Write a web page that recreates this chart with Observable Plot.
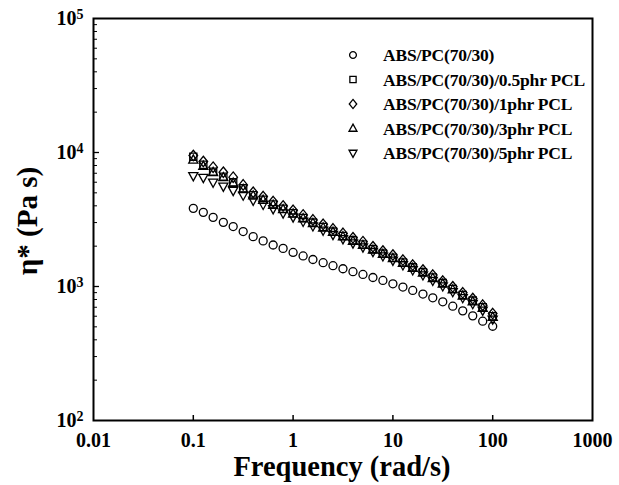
<!DOCTYPE html>
<html><head><meta charset="utf-8">
<script src="https://cdn.jsdelivr.net/npm/d3@7"></script>
<script src="https://cdn.jsdelivr.net/npm/@observablehq/plot@0.6"></script>
<style>
body{margin:0;background:#fff}
#chart{width:619px;height:485px}
</style>
</head><body><div id="chart"></div>
<script>
const frequency = [0.1, 0.126, 0.158, 0.2, 0.251, 0.316, 0.398, 0.501, 0.631, 0.794,
  1, 1.26, 1.58, 2, 2.51, 3.16, 3.98, 5.01, 6.31, 7.94,
  10, 12.6, 15.8, 20, 25.1, 31.6, 39.8, 50.1, 63.1, 79.4, 100];
const seriesNames = ["ABS/PC(70/30)", "ABS/PC(70/30)/0.5phr PCL", "ABS/PC(70/30)/1phr PCL", "ABS/PC(70/30)/3phr PCL", "ABS/PC(70/30)/5phr PCL"];
const eta0 = [3830, 3575, 3280, 3010, 2800, 2570, 2355, 2190, 2040, 1925,
  1795, 1690, 1590, 1505, 1430, 1357, 1290, 1230, 1167, 1110,
  1047, 990, 934, 878, 823, 769, 713, 658, 604, 551, 505];
const eta05 = [9300, 8100, 7200, 6600, 6000, 5400, 4800, 4450, 4100, 3800,
  3520, 3250, 3000, 2780, 2570, 2380, 2210, 2060, 1900, 1760,
  1640, 1510, 1390, 1280, 1170, 1060, 960, 865, 785, 700, 600];
const eta1 = [9500, 8570, 7770, 7120, 6540, 5730, 5050, 4690, 4300, 3990,
  3700, 3420, 3140, 2910, 2690, 2490, 2310, 2160, 1980, 1840,
  1718, 1575, 1445, 1327, 1217, 1097, 995, 897, 813, 726, 628];
const eta3 = [8800, 7900, 7100, 6500, 5900, 5300, 4750, 4400, 4050, 3750,
  3480, 3210, 2960, 2740, 2540, 2350, 2180, 2030, 1870, 1740,
  1620, 1490, 1370, 1260, 1150, 1045, 945, 850, 770, 690, 590];
const eta5 = [6700, 6500, 6000, 5600, 5200, 4800, 4400, 4100, 3800, 3530,
  3300, 3060, 2830, 2630, 2440, 2270, 2110, 1970, 1820, 1690,
  1570, 1450, 1330, 1220, 1110, 1010, 915, 825, 745, 665, 570];
const xTicks = [0.01, 0.1, 1, 10, 100, 1000];
const xTickLabels = ["0.01", "0.1", "1", "10", "100", "1000"];
const yTicks = [100, 1000, 10000, 100000];
const yTickExponents = ["2", "3", "4", "5"];
const yMinorTicks = [200,300,400,500,600,700,800,900,2000,3000,4000,5000,6000,7000,8000,9000,20000,30000,40000,50000,60000,70000,80000,90000];
const xTitle = "Frequency (rad/s)";
const yTitle = "η* (Pa s)";

// symbols
const rOf = s => Math.sqrt(s / Math.PI);
const circleSym = {draw(c, s){ const r = rOf(s); c.moveTo(r, 0); c.arc(0, 0, r, 0, 2*Math.PI); c.closePath(); }};
const squareSym = {draw(c, s){ const r = rOf(s)*0.92; c.rect(-r, -r, 2*r, 2*r); }};
const diamondSym = {draw(c, s){ const r = rOf(s); const w = r*1.1, h = r*1.35; c.moveTo(0,-h); c.lineTo(w,0); c.lineTo(0,h); c.lineTo(-w,0); c.closePath(); }};
const triUpSym = {draw(c, s){ const r = rOf(s)*1.3; c.moveTo(0,-r); c.lineTo(r*0.9, r*0.62); c.lineTo(-r*0.9, r*0.62); c.closePath(); }};
const triDownSym = {draw(c, s){ const r = rOf(s)*1.3; c.moveTo(0,r); c.lineTo(r*0.9,-r*0.62); c.lineTo(-r*0.9,-r*0.62); c.closePath(); }};
const symbols = [circleSym, squareSym, diamondSym, triUpSym, triDownSym];
const allSeries = [eta0, eta05, eta1, eta3, eta5];
const drawOrder = [0, 1, 3, 4, 2];

const rows = s => frequency.map((f, i) => ({f, v: allSeries[s][i]}));
const font = "'Liberation Serif', 'Times New Roman', Times, serif";
const xLabelOf = d => xTickLabels[xTicks.findIndex(t => Math.abs(t - d) < t * 1e-6)];
const yExpOf = d => yTickExponents[yTicks.findIndex(t => Math.abs(t - d) < t * 1e-6)];

const plot = Plot.plot({
  width: 619, height: 485,
  marginLeft: 93, marginRight: 27, marginTop: 18, marginBottom: 65,
  x: {type: "log", domain: [0.01, 1000]},
  y: {type: "log", domain: [100, 100000]},
  style: {fontFamily: font, background: "white", color: "black", overflow: "visible"},
  marks: [
    ...drawOrder.map(s => Plot.dot(rows(s), {x: "f", y: "v", symbol: symbols[s], r: s === 0 ? 4.0 : 3.9, stroke: "black", strokeWidth: 1.3, fill: "none"})),
    Plot.axisX(xTicks.slice(1, -1), {tickSize: -5, fill: "none", strokeWidth: 1.5, label: null}),
    Plot.axisY(yTicks.slice(1, -1), {tickSize: -6, fill: "none", strokeWidth: 1.3, label: null}),
    Plot.axisY(yMinorTicks, {tickSize: -4, fill: "none", strokeWidth: 1, label: null}),
    Plot.axisX(xTicks, {tickSize: 0, tickPadding: 12, tickFormat: xLabelOf, fontSize: 20, fontWeight: "bold", label: null}),
    Plot.axisY(yTicks, {tickSize: 0, tickPadding: 10, tickFormat: yExpOf, fontSize: 20, fontWeight: "bold", label: null}),
    Plot.frame({stroke: "black", strokeWidth: 2})
  ]
});

const svg = d3.select(plot);
// superscript tick labels on the y axis
svg.selectAll("text").each(function(){
  const t = d3.select(this);
  const e = t.text();
  const g = this.closest("g");
  if (yTickExponents.includes(e) && g && g.getAttribute("text-anchor") === "end") {
    t.text("10");
    t.append("tspan").attr("dy", "-0.42em").attr("font-size", "14px").text(e);
  }
});

// titles
svg.append("text").attr("x", 342).attr("y", 476).attr("text-anchor", "middle")
  .attr("font-family", font).attr("font-weight", "bold").attr("font-size", 28.5).text(xTitle);
svg.append("text").attr("transform", "translate(37,221) rotate(-90)").attr("text-anchor", "middle")
  .attr("font-family", font).attr("font-weight", "bold").attr("font-size", 29).text(yTitle);

// legend
const leg = svg.append("g").attr("font-family", font).attr("font-weight", "bold").attr("font-size", 17.5)
  .attr("letter-spacing", "-0.2px").attr("text-anchor", "start");
seriesNames.forEach((name, i) => {
  const y = 55 + i * 24.5;
  leg.append("path").attr("transform", `translate(353,${y})`)
    .attr("d", d3.symbol(symbols[i], Math.PI * 3.4 * 3.4)())
    .attr("fill", "none").attr("stroke", "black").attr("stroke-width", 1.3);
  leg.append("text").attr("x", 383).attr("y", y).attr("dy", "0.35em").text(name);
});

document.getElementById("chart").appendChild(plot);
</script>
</body></html>
